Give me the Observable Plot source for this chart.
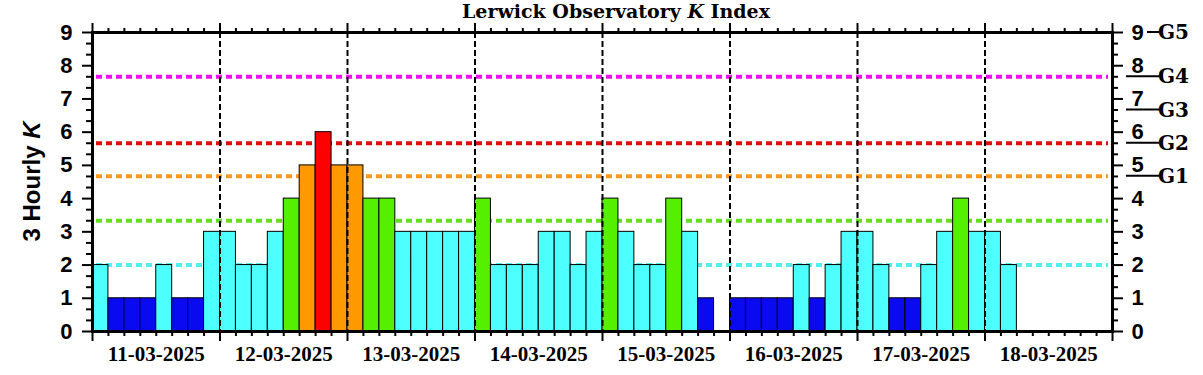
<!DOCTYPE html>
<html><head><meta charset="utf-8">
<script src="https://cdn.jsdelivr.net/npm/d3@7"></script>
<script src="https://cdn.jsdelivr.net/npm/@observablehq/plot@0.6"></script>
<style>
html,body{margin:0;padding:0;background:#fff;}
#chart{width:1203px;height:375px;position:relative;}
</style></head><body><div id="chart"></div>
<script>
// ---- data ----
const days = ["11-03-2025","12-03-2025","13-03-2025","14-03-2025","15-03-2025","16-03-2025","17-03-2025","18-03-2025"];
const k11 = [2,1,1,1,2,1,1,3];
const k12 = [3,2,2,3,4,5,6,5];
const k13 = [5,4,4,3,3,3,3,3];
const k14 = [4,2,2,2,3,3,2,3];
const k15 = [4,3,2,2,4,3,1,null];
const k16 = [1,1,1,1,2,1,2,3];
const k17 = [3,2,1,1,2,3,4,3];
const k18 = [3,2];
const thresholdLevels = [2, 3.33, 4.67, 5.67, 7.67];
const stormLevels = [4.67, 5.67, 6.67, 7.67, 9];
const stormLabels = ["G1","G2","G3","G4","G5"];
const yTickValues = [0,1,2,3,4,5,6,7,8,9];

// ---- styles ----
const SANS = "'Liberation Sans', Arial, Helvetica, sans-serif";
const SERIF = "'Liberation Serif', 'Times New Roman', serif";
const WIDESERIF = "'DejaVu Serif', 'Liberation Serif', serif";
const thresholdColors = ["#55eeee","#66dd22","#ff9922","#dd1111","#ee11ee"];
function kColor(k){
  if (k <= 1) return "#0a0af0";
  if (k <= 3) return "#4dffff";
  if (k === 4) return "#55f000";
  if (k === 5) return "#ff9900";
  return "#ff0000";
}

const perDay = [k11,k12,k13,k14,k15,k16,k17,k18];
const bars = [];
perDay.forEach((arr, d) => arr.forEach((k, j) => {
  if (k != null) bars.push({x1: d*24 + j*3, x2: d*24 + j*3 + 3, k});
}));
const nHours = days.length * 24;
const hourTicks = d3.range(0, nHours + 1, 3).filter(h => h % 24 !== 0);
const dayTicks = d3.range(0, nHours + 1, 24);
const dayBoundaries = dayTicks.slice(1, -1);
const dayCenters = days.map((_, i) => i*24 + 12);
const thirds = d3.range(0, 27).map(i => i/3).filter((v,i) => i % 3 !== 0);
const thresholds = thresholdLevels.map((level, i) => ({level, i}));

const plot = Plot.plot({
  width: 1203, height: 375,
  marginLeft: 92, marginRight: 91, marginTop: 32, marginBottom: 44,
  style: {background: "#fff", color: "#000", fontFamily: SANS, overflow: "visible"},
  x: {domain: [0, nHours], axis: null},
  y: {domain: [0, 9], axis: null},
  color: {type: "identity"},
  marks: [
    Plot.ruleY(thresholds, {y: "level", stroke: d => thresholdColors[d.i], strokeWidth: 4, strokeDasharray: "6,4", insetLeft: 4, insetRight: 4}),
    Plot.rect(bars, {x1: "x1", x2: "x2", y1: 0, y2: "k", fill: d => kColor(d.k), stroke: "#000", strokeWidth: 1}),
    Plot.ruleX(dayBoundaries, {x: d => d, stroke: "#000", strokeWidth: 2, strokeDasharray: "6,3"}),
    Plot.axisX(hourTicks, {anchor: "bottom", tickSize: 5, strokeWidth: 2, tickFormat: () => ""}),
    Plot.axisX(dayTicks, {anchor: "bottom", tickSize: 10, strokeWidth: 2, tickFormat: () => ""}),
    Plot.axisX(dayCenters, {anchor: "bottom", tickSize: 0, tickPadding: 15, tickFormat: h => days[Math.floor(h/24)], fontFamily: SERIF, fontWeight: "bold", fontSize: 21}),
    Plot.axisX(hourTicks, {anchor: "top", tickSize: 5, strokeWidth: 2, tickFormat: () => ""}),
    Plot.axisX(dayTicks, {anchor: "top", tickSize: 10, strokeWidth: 2, tickFormat: () => ""}),
    Plot.axisY(thirds, {anchor: "left", tickSize: 6, strokeWidth: 2, tickFormat: () => ""}),
    Plot.axisY(yTickValues, {anchor: "left", tickSize: 10, strokeWidth: 2, tickPadding: 10, fontWeight: "bold", fontSize: 22, fontFamily: SANS}),
    Plot.axisY(thirds, {anchor: "right", tickSize: 5, strokeWidth: 2, tickFormat: () => ""}),
    Plot.axisY(yTickValues, {anchor: "right", tickSize: 10, strokeWidth: 2, tickPadding: 9, fontWeight: "bold", fontSize: 22, fontFamily: SANS}),
    Plot.frame({stroke: "#000", strokeWidth: 3})
  ]
});
document.getElementById("chart").appendChild(plot);

// ---- annotations using the plot's scales ----
const svg = d3.select(plot);
const ys = plot.scale("y");
const xr = 1203 - 91;
const yTop = ys.apply(9), yBot = ys.apply(0);
const g = svg.append("g").attr("text-anchor", "start");
stormLevels.forEach((lvl, i) => {
  const yy = ys.apply(lvl);
  const isInt = Math.abs(lvl - Math.round(lvl)) < 1e-6;
  g.append("line").attr("x1", xr + (isInt ? 35 : 14)).attr("x2", xr + 47)
    .attr("y1", yy).attr("y2", yy).attr("stroke", "#000").attr("stroke-width", 2);
  g.append("text").attr("x", xr + 46).attr("y", yy).attr("dy", "0.36em")
    .attr("text-anchor", "start")
    .attr("font-family", WIDESERIF).attr("font-weight", "bold").attr("font-size", 20)
    .text(stormLabels[i]);
});
// title
const t = svg.append("text").attr("x", 616).attr("y", 18).attr("text-anchor", "middle")
  .attr("font-family", WIDESERIF).attr("font-weight", "bold").attr("font-size", 19);
t.append("tspan").text("Lerwick Observatory ");
t.append("tspan").attr("font-style", "italic").text("K");
t.append("tspan").text(" Index");
// y label
const yl = svg.append("text").attr("transform", `translate(40,${(yTop + yBot)/2}) rotate(-90)`)
  .attr("text-anchor", "middle").attr("font-family", SANS).attr("font-weight", "bold").attr("font-size", 24);
yl.append("tspan").text("3 Hourly ");
yl.append("tspan").attr("font-style", "italic").text("K");
</script>
</body></html>
